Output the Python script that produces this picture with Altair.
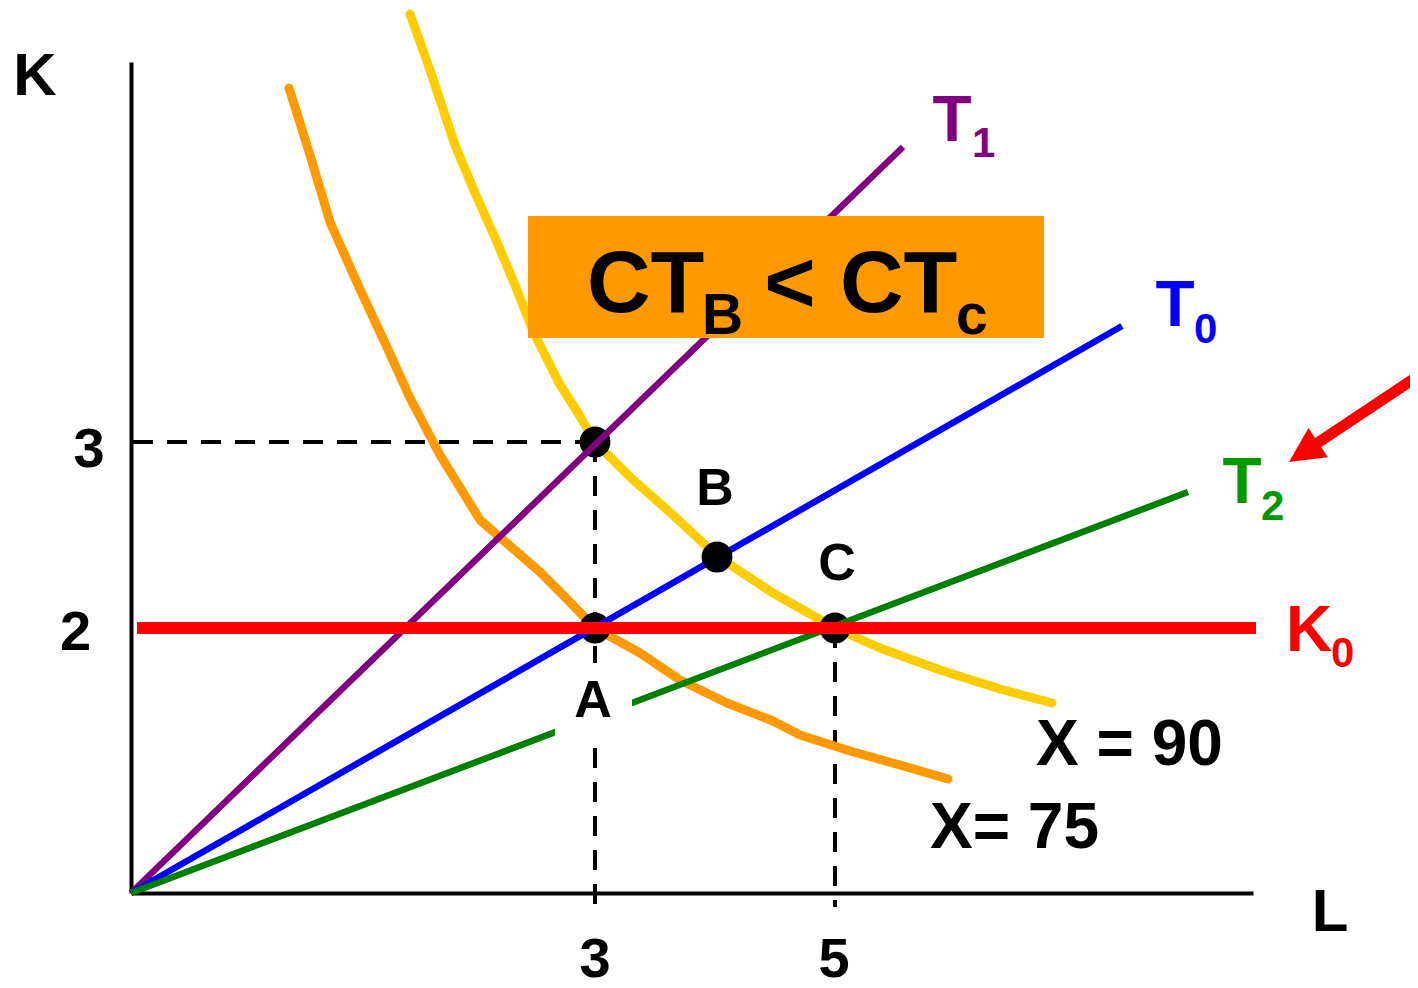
import math
import altair as alt
import pandas as pd

FONT = "Liberation Sans"

# ---------------- values ----------------
# schematic graph units: the corner of the L / K axes is (0, 0)
L_MAX = 11.22
K_MAX = 8.31

# isoquant X = 90 (yellow)
x90_L = [2.79, 2.99, 3.24, 3.44, 3.65, 3.84, 4.02, 4.28, 4.47, 4.64, 4.99, 5.42, 5.86, 6.42, 7.04, 7.49, 8.09, 8.69, 9.21]
x90_K = [8.79, 8.23, 7.48, 7.00, 6.53, 6.08, 5.62, 5.10, 4.80, 4.51, 4.16, 3.78, 3.37, 3.00, 2.65, 2.45, 2.23, 2.04, 1.90]

# isoquant X = 75 (orange)
x75_L = [1.58, 1.79, 1.99, 2.27, 2.54, 2.79, 3.09, 3.49, 3.79, 4.09, 4.32, 4.64, 5.09, 5.49, 5.96, 6.42, 6.69, 7.19, 7.69, 8.17]
x75_K = [8.05, 7.38, 6.71, 6.08, 5.50, 4.95, 4.38, 3.73, 3.47, 3.21, 2.98, 2.65, 2.40, 2.13, 1.90, 1.72, 1.58, 1.42, 1.28, 1.14]

# expansion paths (rays from the origin)
ray_names = ["T1", "T0", "T2"]
ray_end_L = [7.72, 9.91, 10.57]
ray_end_K = [7.46, 5.67, 4.01]
ray_colors = ["#800080", "#0000FF", "#008000"]

# fixed capital K0
K0_level = 2.65
K0_from = 0.06
K0_to = 11.25

# marked points
pt_names = ["A", "C", "D", "B"]
pt_L = [4.64, 7.04, 4.64, 5.86]
pt_K = [2.65, 2.65, 4.51, 3.36]

# dashed guides
guide_L1 = [0.02, 4.64, 7.04]
guide_K1 = [4.51, 4.51, 2.65]
guide_L2 = [4.64, 4.64, 7.04]
guide_K2 = [4.51, -0.14, -0.14]

# white patch behind label A
patch_L = [4.24, 5.01]
patch_K = [1.52, 2.30]

# orange box
box_L = [3.97, 9.13]
box_K = [5.55, 6.77]

# red arrow
arrow_tail = [12.84, 5.15]
arrow_tip = [11.58, 4.31]

# centered labels
c_text = ["K", "L", "3", "5", "3", "2", "T", "T", "T", "B", "C", "A", "<"]
c_L = [-0.96, 11.99, 4.64, 7.03, -0.42, -0.555, 8.21, 10.44, 11.11, 5.84, 7.06, 4.62, 6.59]
c_K = [7.98, -0.38, -0.84, -0.84, 4.26, 2.43, 7.52, 5.67, 3.90, 3.88, 3.13, 1.76, 5.81]
c_size = [60, 60, 56, 56, 56, 56, 64, 64, 64, 52, 52, 52, 88]
c_color = ["black", "black", "black", "black", "black", "black",
           "#800080", "#0000FF", "#009900", "black", "black", "black", "black"]

# left-aligned labels
l_text = ["1", "0", "2", "K", "0", "X = 90", "X= 75", "CT", "B", "CT", "c"]
l_L = [8.41, 10.63, 11.30, 11.55, 12.00, 9.05, 7.99, 4.56, 5.71, 7.09, 8.25]
l_K = [7.36, 5.50, 3.73, 2.42, 2.26, 1.28, 0.45, 5.81, 5.59, 5.81, 5.59]
l_size = [42, 42, 42, 64, 42, 64, 64, 88, 57, 88, 57]
l_color = ["#800080", "#0000FF", "#009900", "#FF0000", "#FF0000",
           "black", "black", "black", "black", "black", "black"]

# ---------------- chart ----------------
xsc = alt.Scale(domain=[0, L_MAX], nice=False, zero=False)
ysc = alt.Scale(domain=[0, K_MAX], nice=False, zero=False)
ax = dict(labels=False, ticks=False, grid=False, title=None,
          domainColor="black", domainWidth=4)


def X(f):
    return alt.X(f, type="quantitative", scale=xsc, axis=alt.Axis(**ax))


def Y(f):
    return alt.Y(f, type="quantitative", scale=ysc, axis=alt.Axis(**ax))


df90 = pd.DataFrame({"L": x90_L, "K": x90_K, "i": range(len(x90_L))})
df75 = pd.DataFrame({"L": x75_L, "K": x75_K, "i": range(len(x75_L))})
rays = pd.DataFrame({"name": ray_names, "L0": 0.0, "K0": 0.0,
                     "L1": ray_end_L, "K1": ray_end_K, "c": ray_colors})
k0 = pd.DataFrame({"L1": [K0_from], "L2": [K0_to], "K": [K0_level]})
pts = pd.DataFrame({"name": pt_names, "L": pt_L, "K": pt_K})
guides = pd.DataFrame({"L1": guide_L1, "K1": guide_K1, "L2": guide_L2, "K2": guide_K2})
patch = pd.DataFrame({"L1": [patch_L[0]], "L2": [patch_L[1]], "K1": [patch_K[0]], "K2": [patch_K[1]]})
box = pd.DataFrame({"L1": [box_L[0]], "L2": [box_L[1]], "K1": [box_K[0]], "K2": [box_K[1]]})
ctext = pd.DataFrame({"t": c_text, "L": c_L, "K": c_K, "s": c_size, "c": c_color})
ltext = pd.DataFrame({"t": l_text, "L": l_L, "K": l_K, "s": l_size, "c": l_color})

# arrow head geometry (same px per unit on both axes)
dL = arrow_tip[0] - arrow_tail[0]
dK = arrow_tip[1] - arrow_tail[1]
ln = math.hypot(dL, dK)
head_r = 0.175
head_c = [arrow_tip[0] - head_r * dL / ln, arrow_tip[1] - head_r * dK / ln]
head_angle = math.degrees(math.atan2(dL, dK)) % 360  # screen: dx=dL, dy=-dK
shaft = pd.DataFrame({"L1": [arrow_tail[0]], "K1": [arrow_tail[1]],
                      "L2": [head_c[0]], "K2": [head_c[1]]})
head = pd.DataFrame({"L": [head_c[0]], "K": [head_c[1]]})

dashed = alt.Chart(guides).mark_rule(color="black", strokeWidth=4, strokeDash=[20, 14], clip=False).encode(
    x=X("L1"), y=Y("K1"), x2="L2", y2="K2")

yellow = alt.Chart(df90).mark_line(color="#FFCC00", strokeWidth=9, strokeCap="round",
                                   strokeJoin="round", clip=False).encode(
    x=X("L"), y=Y("K"), order="i:Q")
orange = alt.Chart(df75).mark_line(color="#FF9900", strokeWidth=9, strokeCap="round",
                                   strokeJoin="round", clip=False).encode(
    x=X("L"), y=Y("K"), order="i:Q")

dots_low = alt.Chart(pts).transform_filter("datum.name != 'B'").mark_circle(
    size=950, color="black", opacity=1, clip=False).encode(x=X("L"), y=Y("K"))
dot_b = alt.Chart(pts).transform_filter("datum.name == 'B'").mark_circle(
    size=950, color="black", opacity=1, clip=False).encode(x=X("L"), y=Y("K"))

ray_layer = alt.Chart(rays).mark_rule(strokeWidth=6.5, clip=False).encode(
    x=X("L0"), y=Y("K0"), x2="L1", y2="K1", color=alt.Color("c:N", scale=None))

patch_layer = alt.Chart(patch).mark_rect(color="white", clip=False).encode(
    x=X("L1"), x2="L2", y=Y("K1"), y2="K2")

k0_layer = alt.Chart(k0).mark_rule(color="#FF0000", strokeWidth=12, clip=False).encode(
    x=X("L1"), x2="L2", y=Y("K"))

box_layer = alt.Chart(box).mark_rect(color="#FF9900", clip=False).encode(
    x=X("L1"), x2="L2", y=Y("K1"), y2="K2")

ctext_layer = alt.Chart(ctext).mark_text(font=FONT, fontWeight="bold", align="center",
                                         baseline="alphabetic", clip=False).encode(
    x=X("L"), y=Y("K"), text="t:N", size=alt.Size("s:Q", scale=None),
    color=alt.Color("c:N", scale=None))
ltext_layer = alt.Chart(ltext).mark_text(font=FONT, fontWeight="bold", align="left",
                                         baseline="alphabetic", clip=False).encode(
    x=X("L"), y=Y("K"), text="t:N", size=alt.Size("s:Q", scale=None),
    color=alt.Color("c:N", scale=None))

shaft_layer = alt.Chart(shaft).mark_rule(color="#FF0000", strokeWidth=11, clip=False).encode(
    x=X("L1"), y=Y("K1"), x2="L2", y2="K2")
head_layer = alt.Chart(head).mark_point(shape="M0,-1L1,1L-1,1Z", size=1225, filled=True,
                                        color="#FF0000", opacity=1, angle=head_angle,
                                        clip=False).encode(x=X("L"), y=Y("K"))

chart = alt.layer(
    dashed, yellow, orange, dots_low, ray_layer, patch_layer, k0_layer, dot_b,
    box_layer, ctext_layer, ltext_layer, shaft_layer, head_layer
).properties(
    width=1122, height=831,
    autosize=alt.AutoSizeParams(type="none"),
    padding={"left": 123, "top": 54, "right": 157, "bottom": 89},
    background="white",
).configure_view(stroke=None)

chart.save("out.html", embed_options={"renderer": "svg", "actions": False})
